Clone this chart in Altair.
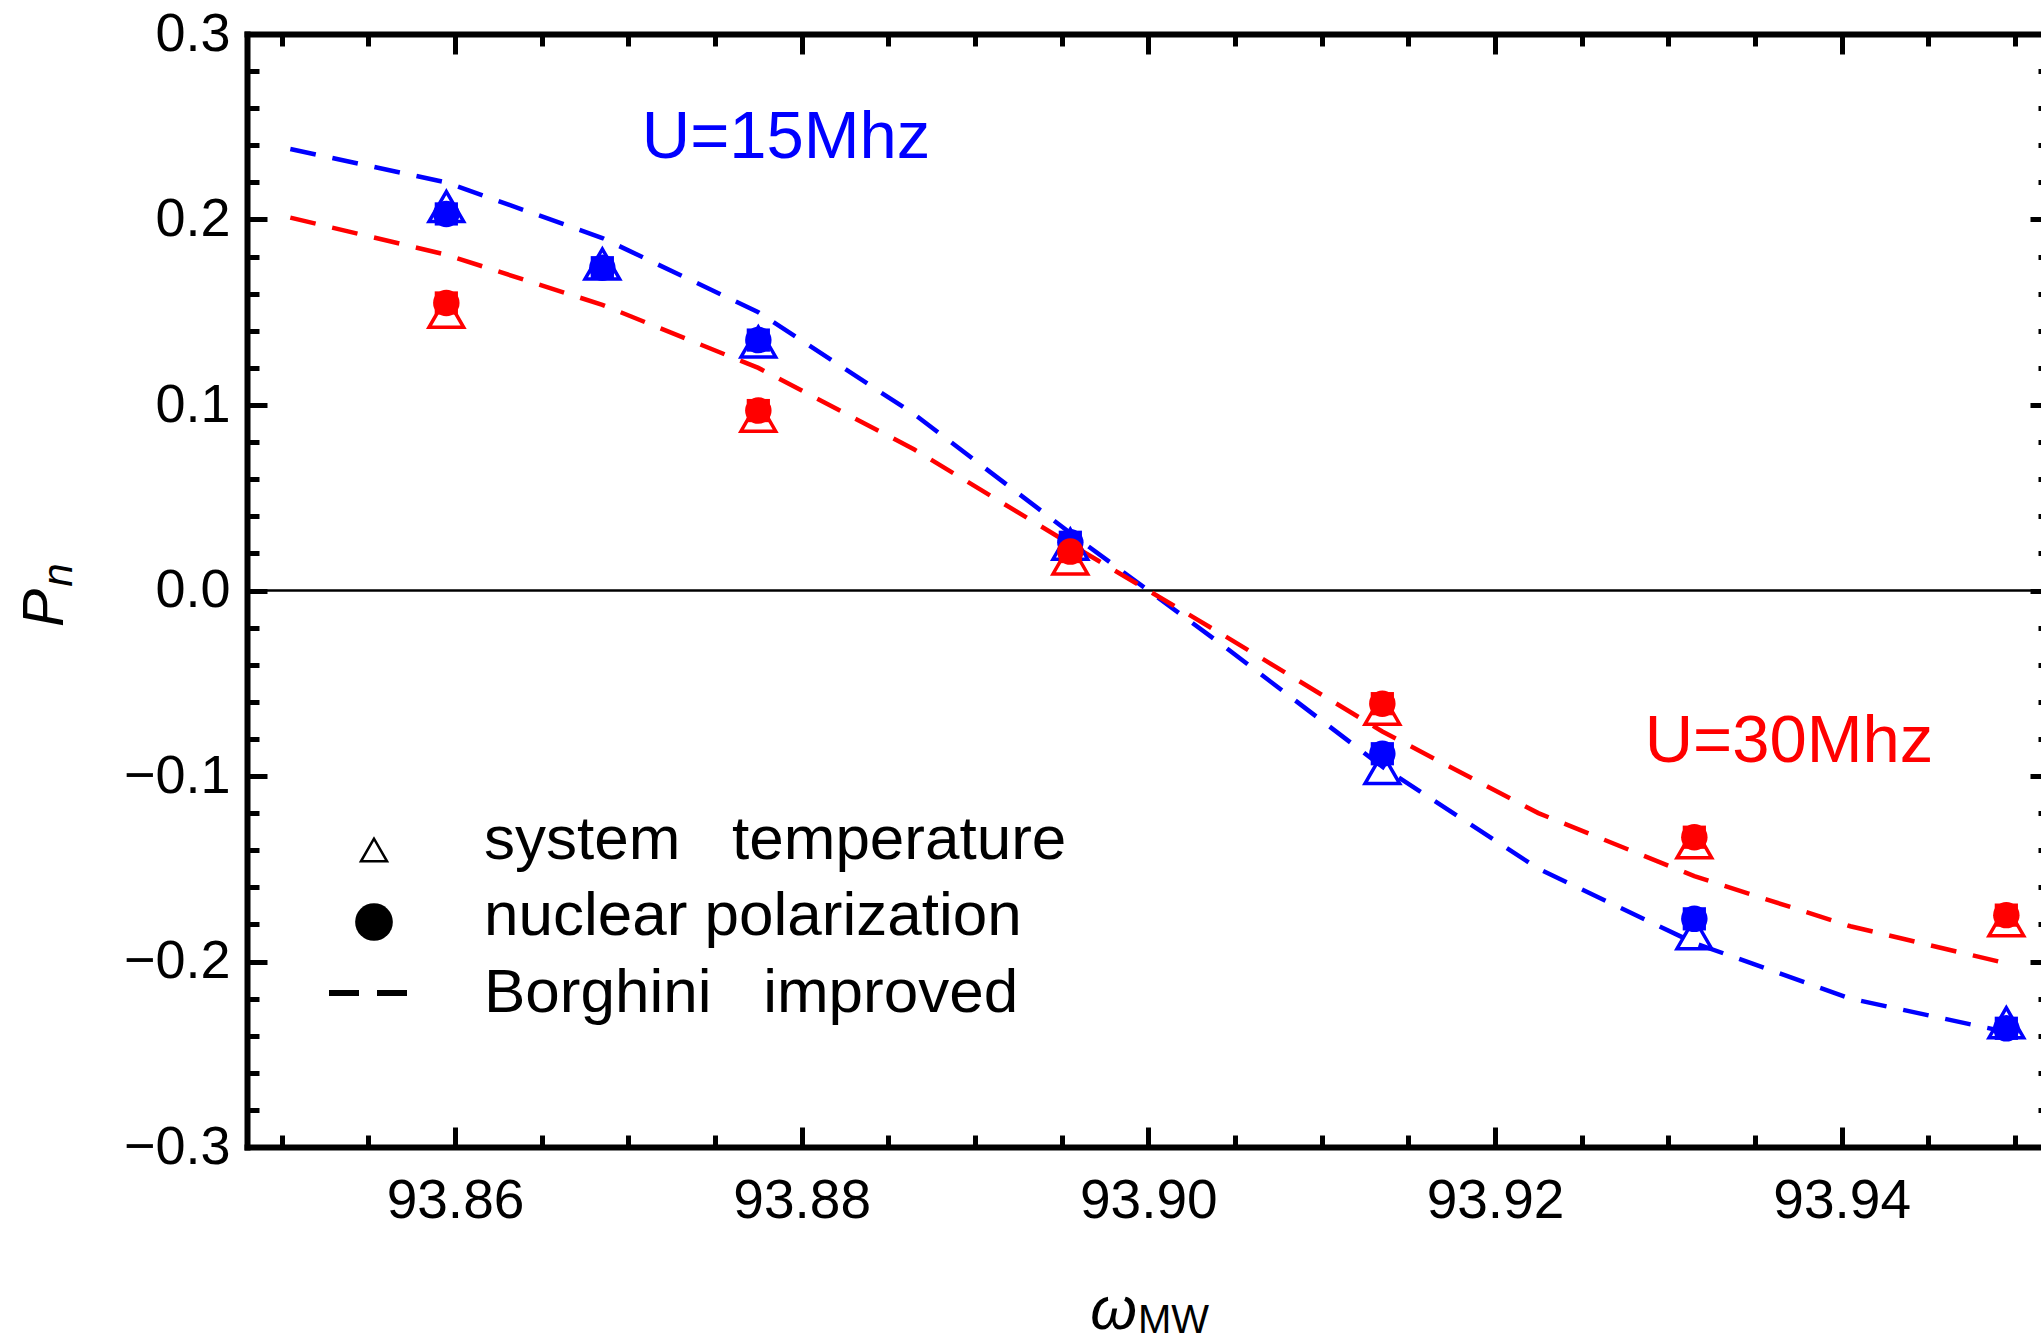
import altair as alt
import pandas as pd

FONT = "Liberation Sans"
NB = "\u00a0"

# ---------------- data ----------------
omega_u15 = [93.8595, 93.8685, 93.8775, 93.8955, 93.9135, 93.9315, 93.9495]
u15_temperature = [0.207, 0.176, 0.134, 0.025, -0.096, -0.185, -0.233]
u15_polarization = [0.203, 0.174, 0.135, 0.026, -0.088, -0.177, -0.236]

omega_u30 = [93.8595, 93.8775, 93.8955, 93.9135, 93.9315, 93.9495]
u30_temperature = [0.150, 0.094, 0.017, -0.064, -0.136, -0.178]
u30_polarization = [0.155, 0.097, 0.021, -0.061, -0.133, -0.175]

omega_curve = [93.8505, 93.8595, 93.8685, 93.8775, 93.8865, 93.8955,
               93.9045, 93.9135, 93.9225, 93.9315, 93.9405, 93.9495]
u15_borghini = [0.238, 0.220, 0.190, 0.150, 0.095, 0.031,
                -0.031, -0.095, -0.150, -0.190, -0.220, -0.238]
u30_borghini = [0.201, 0.181, 0.154, 0.120, 0.076, 0.025,
                -0.025, -0.076, -0.120, -0.154, -0.181, -0.201]

series_names = ["U=15Mhz", "U=30Mhz"]
legend_labels = ["system" + NB * 3 + "temperature", "nuclear polarization", "Borghini" + NB * 3 + "improved"]
zero_line = [0.0]

x_major = [93.86, 93.88, 93.90, 93.92, 93.94]
x_minor = [93.85, 93.855, 93.865, 93.87, 93.875, 93.885, 93.89, 93.895,
           93.905, 93.91, 93.915, 93.925, 93.93, 93.935, 93.945, 93.95]
y_major = [-0.3, -0.2, -0.1, 0.0, 0.1, 0.2, 0.3]
y_minor = [round(-0.3 + 0.02 * i, 2) for i in range(31) if i % 5 != 0]

# ---------------- tables ----------------
points = pd.DataFrame({
    "omega": omega_u15 + omega_u30,
    "temp": u15_temperature + u30_temperature,
    "pol": u15_polarization + u30_polarization,
    "series": [series_names[0]] * len(omega_u15) + [series_names[1]] * len(omega_u30),
})
curves = pd.DataFrame({
    "omega": omega_curve + omega_curve,
    "P": u15_borghini + u30_borghini,
    "series": [series_names[0]] * len(omega_curve) + [series_names[1]] * len(omega_curve),
})
one = pd.DataFrame({"a": [0]})

X = alt.Scale(domain=[93.848, 93.9515], nice=False, zero=False)
Y = alt.Scale(domain=[-0.3, 0.3], nice=False, zero=False)
COL = alt.Color("series:N", scale=alt.Scale(domain=series_names, range=["#0000ff", "#ff0000"]), legend=None)

# ---------------- axes ----------------
common = dict(grid=False, title=None, labelFlush=False, labelOverlap=False)
dom = dict(domain=True, domainColor="black", domainWidth=6, domainCap="square")
tk = dict(ticks=True, tickColor="black", tickWidth=5, domain=False, labels=False)

ax_b_lab = alt.Axis(orient="bottom", values=x_major, format=".2f", labelFont=FONT, labelFontSize=55,
                    labelColor="black", labelPadding=27, ticks=False, **dom, **common)
ax_b_maj = alt.Axis(orient="bottom", values=x_major, tickSize=20, offset=-20, **tk, **common)
ax_b_min = alt.Axis(orient="bottom", values=x_minor, tickSize=12, offset=-12, **tk, **common)
ax_t_dom = alt.Axis(orient="top", values=x_major, labels=False, ticks=False, **dom, **common)
ax_t_maj = alt.Axis(orient="top", values=x_major, tickSize=20, offset=-20, **tk, **common)
ax_t_min = alt.Axis(orient="top", values=x_minor, tickSize=12, offset=-12, **tk, **common)

ax_l_lab = alt.Axis(orient="left", values=y_major, format=".1f", labelFont=FONT, labelFontSize=54,
                    labelColor="black", labelPadding=17, ticks=False, **dom, **common)
ax_l_maj = alt.Axis(orient="left", values=y_major, tickSize=20, offset=-20, **tk, **common)
ax_l_min = alt.Axis(orient="left", values=y_minor, tickSize=12, offset=-12, **tk, **common)
ax_r_maj = alt.Axis(orient="right", values=y_major, tickSize=11, offset=-11, **tk, **common)
ax_r_min = alt.Axis(orient="right", values=y_minor, tickSize=3, offset=-3, **tk, **common)


def axis_layer(xa, ya):
    return alt.Chart(curves).mark_point(opacity=0).encode(
        x=alt.X("omega:Q", scale=X, axis=xa),
        y=alt.Y("P:Q", scale=Y, axis=ya),
    )


axes = [
    axis_layer(ax_b_lab, ax_l_lab),
    axis_layer(ax_b_maj, ax_l_maj),
    axis_layer(ax_b_min, ax_l_min),
    axis_layer(ax_t_dom, None),
    axis_layer(ax_t_maj, ax_r_maj),
    axis_layer(ax_t_min, ax_r_min),
]

# ---------------- data marks ----------------
zero = alt.Chart(pd.DataFrame({"z": zero_line})).mark_rule(color="black", strokeWidth=2.5).encode(
    y=alt.Y("z:Q", scale=Y, axis=None))

lines = alt.Chart(curves).mark_line(strokeDash=[26, 17], strokeWidth=4.5).encode(
    x=alt.X("omega:Q", scale=X, axis=None),
    y=alt.Y("P:Q", scale=Y, axis=None),
    color=COL, detail="series:N")

tri = alt.Chart(points).mark_point(shape="triangle-up", filled=False, size=1200, strokeWidth=3.5, opacity=1).encode(
    x=alt.X("omega:Q", scale=X, axis=None), y=alt.Y("temp:Q", scale=Y, axis=None), color=COL)
sq = alt.Chart(points).mark_point(shape="square", filled=True, size=540, opacity=1).encode(
    x=alt.X("omega:Q", scale=X, axis=None), y=alt.Y("pol:Q", scale=Y, axis=None), color=COL)
circ = alt.Chart(points).mark_point(shape="circle", filled=True, size=700, opacity=1).encode(
    x=alt.X("omega:Q", scale=X, axis=None), y=alt.Y("pol:Q", scale=Y, axis=None), color=COL)

# ---------------- annotations ----------------
lab15 = alt.Chart(one).mark_text(text=series_names[0], font=FONT, fontSize=67, color="#0000ff",
                                 align="center", baseline="alphabetic").encode(
    x=alt.XDatum(93.8791, scale=X, axis=None), y=alt.YDatum(0.2334, scale=Y, axis=None))
lab30 = alt.Chart(one).mark_text(text=series_names[1], font=FONT, fontSize=67, color="#ff0000",
                                 align="center", baseline="alphabetic").encode(
    x=alt.XDatum(93.93696, scale=X, axis=None), y=alt.YDatum(-0.0927, scale=Y, axis=None))

# legend (pixel positions relative to plot origin)
leg_tri = alt.Chart(one).mark_point(shape="triangle-up", filled=False, size=680, strokeWidth=2.5,
                                    color="black", opacity=1).encode(x=alt.value(127), y=alt.value(816))
leg_circ = alt.Chart(one).mark_point(shape="circle", filled=True, size=1420, color="black",
                                     opacity=1).encode(x=alt.value(127), y=alt.value(888))
leg_dash = alt.Chart(one).mark_rule(color="black", strokeWidth=6, strokeDash=[30, 18]).encode(
    x=alt.value(82), x2=alt.value(160), y=alt.value(959))
leg_texts = [
    alt.Chart(one).mark_text(text=t, font=FONT, fontSize=62, color="black", align="left",
                             baseline="alphabetic").encode(x=alt.value(237), y=alt.value(yy))
    for t, yy in zip(legend_labels, [825, 901, 978])
]

# axis titles
p_main = alt.Chart(one).mark_text(text="P", font=FONT, fontSize=57, fontStyle="italic", angle=270,
                                  align="center", baseline="alphabetic", color="black").encode(
    x=alt.value(-184), y=alt.value(574))
p_sub = alt.Chart(one).mark_text(text="n", font=FONT, fontSize=42, fontStyle="italic", angle=270,
                                 align="center", baseline="alphabetic", color="black").encode(
    x=alt.value(-175), y=alt.value(541))
w_main = alt.Chart(one).mark_text(text="ω", font=FONT, fontSize=60, fontStyle="italic",
                                  align="right", baseline="alphabetic", color="black").encode(
    x=alt.value(890), y=alt.value(1295))
w_sub = alt.Chart(one).mark_text(text="MW", font=FONT, fontSize=40,
                                 align="left", baseline="alphabetic", color="black").encode(
    x=alt.value(891), y=alt.value(1299))

chart = alt.layer(
    *axes, zero, lines, tri, sq, circ, lab15, lab30,
    leg_tri, leg_circ, leg_dash, *leg_texts, p_main, p_sub, w_main, w_sub,
).resolve_axis(x="independent", y="independent").properties(
    width=1794, height=1113,
    padding={"left": 247, "top": 34, "right": 0, "bottom": 194},
    autosize=alt.AutoSizeParams(type="none"),
    background="white",
).configure_view(stroke=None)

chart.save("out.html", embed_options={"renderer": "svg", "actions": False})
